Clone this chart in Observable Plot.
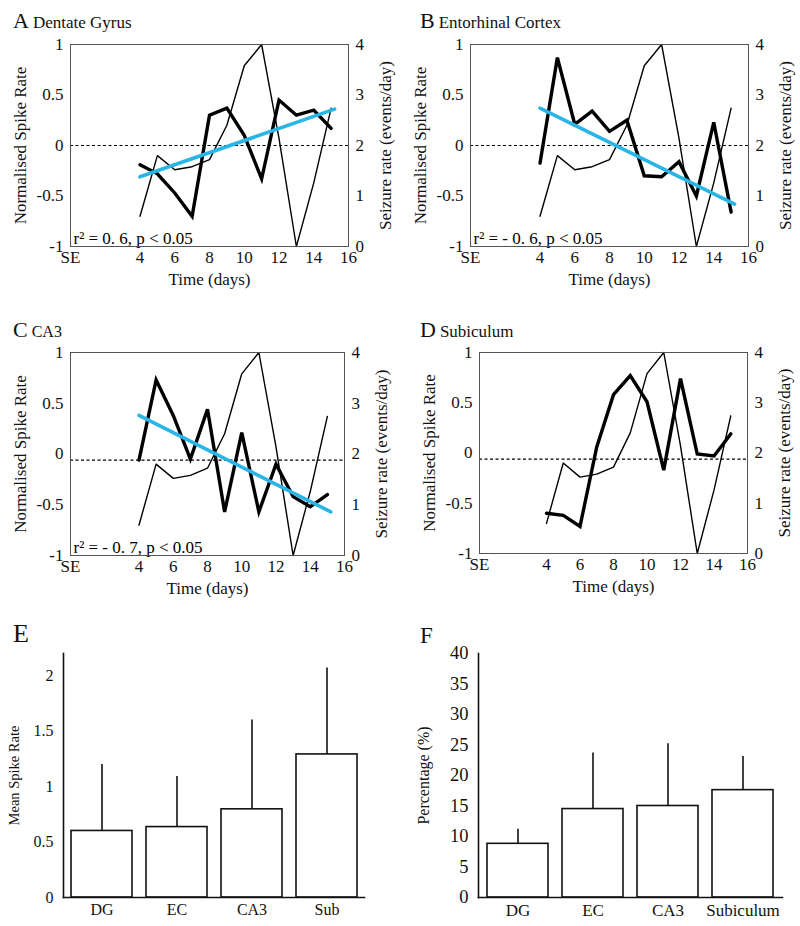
<!DOCTYPE html>
<html><head><meta charset="utf-8">
<script src="https://cdn.jsdelivr.net/npm/d3@7"></script>
<script src="https://cdn.jsdelivr.net/npm/@observablehq/plot@0.6"></script>
<style>
body{margin:0;background:#fff;}
#root{position:relative;width:800px;height:926px;font-family:"Liberation Serif","Times New Roman",serif;overflow:hidden;}
.panel{position:absolute;}
.title{position:absolute;white-space:nowrap;line-height:1em;color:#111;}
</style></head><body><div id="root"></div>
<script>
// ---- data ----
const days = [4,5,6,7,8,9,10,11,12,13,14,15];
const seizureRate = [0.6,1.8,1.52,1.58,1.72,2.4,3.58,4.0,2.14,0,1.26,2.74];
const spikeDG  = [-0.19,-0.28,-0.47,-0.70,0.30,0.37,0.10,-0.33,0.45,0.30,0.35,0.17];
const spikeEC  = [-0.175,0.87,0.21,0.34,0.14,0.25,-0.30,-0.31,-0.16,-0.50,0.23,-0.66];
const spikeCA3 = [-0.06,0.73,0.38,-0.05,0.44,-0.57,0.21,-0.57,-0.10,-0.42,-0.52,-0.40];
const spikeSub = [-0.60,-0.62,-0.73,0.06,0.58,0.77,0.51,-0.17,0.74,-0.01,-0.03,0.19];
const fitDays = [4, 15.2];
const fitDG  = [-0.31, 0.36];
const fitEC  = [0.37, -0.58];
const fitCA3 = [0.38, -0.57];
const panelLetters = ["A","B","C","D","E","F"];
const regionNames = ["Dentate Gyrus","Entorhinal Cortex","CA3","Subiculum"];
const statsText = ["r² = 0. 6, p < 0.05","r² = - 0. 6, p < 0.05","r² = - 0. 7, p < 0.05",""];
const baselineLevel = [0,0,-0.06,-0.06];
const timeTicks = [0,4,6,8,10,12,14,16]; // 0 = SE
const spikeTicks = [-1,-0.5,0,0.5,1];

const barRegionsE = ["DG","EC","CA3","Sub"];
const meanSpike = [0.60,0.635,0.795,1.29];
const meanSpikeUpper = [1.2,1.09,1.6,2.07];
const meanTicks = [0,0.5,1,1.5,2];
const barRegionsF = ["DG","EC","CA3","Subiculum"];
const percent = [8.8,14.5,15.0,17.6];
const percentUpper = [11.2,23.7,25.2,23.1];
const percentTicks = [0,5,10,15,20,25,30,35,40];

const root = document.getElementById("root");
const FONT = '"Liberation Serif","Times New Roman",serif';

function place(node, left, top) {
  node.classList.add("panel");
  node.style.left = left + "px";
  node.style.top = top + "px";
  root.appendChild(node);
}
function title(letter, name, left, baseline, letterSize, nameSize) {
  const d = document.createElement("div");
  d.className = "title";
  d.style.left = left + "px";
  d.style.top = (baseline - 0.84 * letterSize) + "px";
  d.style.fontSize = letterSize + "px";
  d.innerHTML = `<span>${letter}</span>` + (name ? `<span style="font-size:${nameSize}px;margin-left:4px">${name}</span>` : "");
  root.appendChild(d);
}

function linePanel(i, spike, fit, m) {
  const marks = [
    Plot.ruleY([baselineLevel[i]], {stroke: "#000", strokeWidth: 1.2, strokeDasharray: "3,2.5"}),
    Plot.line(days, {x: d => d, y: (d, j) => seizureRate[j] / 2 - 1, stroke: "#000", strokeWidth: 1.4}),
    Plot.line(days, {x: d => d, y: (d, j) => spike[j], stroke: "#000", strokeWidth: 3.4, strokeLinejoin: "miter", strokeMiterlimit: 4})
  ];
  if (fit) marks.push(Plot.line(fitDays, {x: d => d, y: (d, j) => fit[j], stroke: "#29b6e6", strokeWidth: 3.6}));
  if (statsText[i]) marks.push(Plot.text([statsText[i]], {text: d => d, frameAnchor: "bottom-left", textAnchor: "start", lineAnchor: "bottom", dx: 3, dy: -3, fontSize: 17, fill: "#000"}));
  marks.push(
    Plot.frame({stroke: "#555", strokeWidth: 1}),
    Plot.axisX({ticks: timeTicks, tickFormat: d => d === 0 ? "SE" : String(d), tickSize: 0, tickPadding: 4,
      label: "Time (days)", labelAnchor: "center", labelArrow: "none", labelOffset: 38}),
    Plot.axisY({anchor: "left", ticks: spikeTicks, tickFormat: d => String(d), tickSize: 0, tickPadding: 7,
      label: "Normalised Spike Rate", labelAnchor: "center", labelArrow: "none", labelOffset: 57}),
    Plot.axisY({anchor: "right", ticks: spikeTicks, tickFormat: d => String((d + 1) * 2), tickSize: 0, tickPadding: 7,
      label: "Seizure rate (events/day)", labelAnchor: "center", labelArrow: "none", labelOffset: 42})
  );
  return Plot.plot({
    width: 400, height: 300,
    marginLeft: m.left, marginRight: m.right, marginTop: m.top, marginBottom: m.bottom,
    style: {fontFamily: FONT, fontSize: "17px", color: "#111", background: "transparent"},
    x: {domain: [0, 16]},
    y: {domain: [-1, 1]},
    marks
  });
}

function barPanel(names, values, upper, ticks, ymax, m, fonts, label, labelOffset) {
  const data = names.map((n, i) => ({name: n, value: values[i], upper: upper[i]}));
  return Plot.plot({
    width: 400, height: 306,
    marginLeft: m.left, marginRight: m.right, marginTop: 33, marginBottom: 29,
    style: {fontFamily: FONT, fontSize: fonts.y + "px", color: "#111", background: "transparent"},
    x: {domain: names, paddingInner: 0.19, paddingOuter: 0.1},
    y: {domain: [0, ymax]},
    marks: [
      Plot.ruleX(data, {x: "name", y1: "value", y2: "upper", stroke: "#111", strokeWidth: 1.6}),
      Plot.barY(data, {x: "name", y: "value", fill: "white", stroke: "#111", strokeWidth: 1.6}),
      Plot.axisX({tickSize: 0, tickPadding: 6, label: null, fontSize: fonts.x}),
      Plot.axisY({ticks, tickFormat: d => String(d), tickSize: 0, tickPadding: 10, label: null}),
      Plot.axisY({ticks: [], label, labelAnchor: "center", labelArrow: "none", labelOffset, fontSize: fonts.label}),
      Plot.frame({anchor: "left", stroke: "#111", strokeWidth: 1.6}),
      Plot.frame({anchor: "bottom", stroke: "#111", strokeWidth: 1.6})
    ]
  });
}

place(linePanel(0, spikeDG, fitDG, {left: 70, right: 52, top: 44, bottom: 54}), 0, 0);
place(linePanel(1, spikeEC, fitEC, {left: 70, right: 52, top: 44, bottom: 54}), 400, 0);
place(linePanel(2, spikeCA3, fitCA3, {left: 70, right: 56, top: 52, bottom: 45}), 0, 300);
place(linePanel(3, spikeSub, null, {left: 79, right: 53, top: 52, bottom: 47}), 400, 300);
place(barPanel(barRegionsE, meanSpike, meanSpikeUpper, meanTicks, 2.2, {left: 63, right: 36}, {x: 16, y: 16, label: 14.5}, "Mean Spike Rate", 55), 0, 620);
place(barPanel(barRegionsF, percent, percentUpper, percentTicks, 40, {left: 78, right: 18}, {x: 17, y: 18.5, label: 16}, "Percentage (%)", 61), 400, 620);

title(panelLetters[0], regionNames[0], 13, 28, 22, 17);
title(panelLetters[1], regionNames[1], 420, 28, 22, 17);
title(panelLetters[2], regionNames[2], 13, 337, 22, 16);
title(panelLetters[3], regionNames[3], 420, 337, 22, 17);
title(panelLetters[4], "", 13, 643, 26, 0);
title(panelLetters[5], "", 420, 643, 23, 0);
</script></body></html>
